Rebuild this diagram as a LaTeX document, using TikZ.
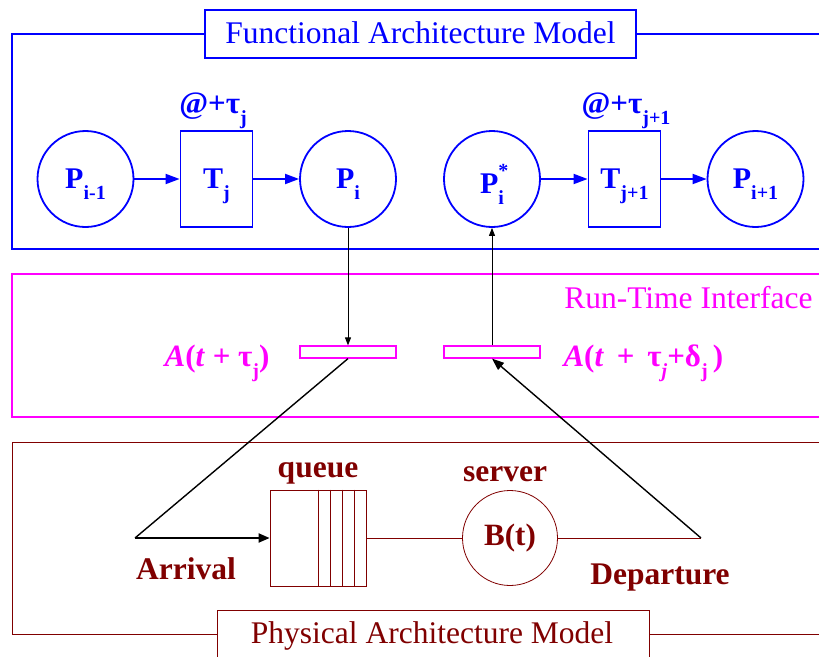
\documentclass[tikz,border=0pt]{standalone}
\usepackage{fontspec}
\setmainfont{Liberation Serif}
\usetikzlibrary{arrows.meta}
\definecolor{fblue}{RGB}{0,0,255}
\definecolor{rtmag}{RGB}{255,0,255}
\definecolor{phred}{RGB}{128,0,0}
% lowered subscript in the style of the labels
\newcommand\lsub[1]{\raisebox{-0.36em}{\fontsize{20}{20}\selectfont #1}}
\newcommand\hsup[1]{\rlap{\raisebox{0.55em}{\fontsize{20}{20}\selectfont #1}}}

\begin{document}
\begin{tikzpicture}[x=1pt,y=-1pt,
  place/.style={circle,draw=fblue,line width=1.8pt,minimum size=96pt,inner sep=0pt,
    text=fblue,text depth=0pt,font=\fontsize{30}{30}\selectfont\bfseries},
  trans/.style={rectangle,draw=fblue,line width=1.8pt,minimum width=72pt,minimum height=96pt,
    inner sep=0pt,text=fblue,text depth=0pt,font=\fontsize{30}{30}\selectfont\bfseries},
  flow/.style={fblue,line width=1.8pt,-{Triangle[length=14pt,width=10pt]}},
  title/.style={draw,fill=white,minimum height=48pt,inner sep=0pt},
  slot/.style={rectangle,draw=rtmag,line width=1.2pt,minimum width=96pt,minimum height=12pt,inner sep=0pt},
  link/.style={black,line width=0.9pt,-{Triangle[length=8pt,width=6pt]}},
  mlabel/.style={text=rtmag,font=\fontsize{31}{31}\selectfont\bfseries},
  plabel/.style={text=phred,font=\fontsize{31.5}{31.5}\selectfont\bfseries},
  flabel/.style={text=fblue,font=\fontsize{31}{31}\selectfont\bfseries},
  ttext/.style={font=\fontsize{31.5}{31.5}\selectfont},
]
\useasboundingbox (0,0) rectangle (819,656);

% ---- functional layer frame
\draw[fblue,line width=1.3pt] (205,34) -- (12,34) -- (12,249) -- (819,249);
\draw[fblue,line width=1.3pt] (636,34) -- (819,34);
\node[title,draw=fblue,line width=1.3pt,minimum width=431pt] (ftitle) at (420.5,34) {};
\node[ttext,anchor=base,text=fblue] (ftext) at (420.5,43) {Functional Architecture Model};

% ---- places and transitions
\node[place] (Pa) at (85.5,179) {P\lsub{i-1}};
\node[trans] (Tj) at (216.5,179) {T\lsub{j}};
\node[place] (Pi) at (348,179) {P\lsub{i}};
\node[place] (Ps) at (492,179) {P\hsup{*}\lsub{i}};
\node[trans] (Tk) at (624.5,179) {T\lsub{j+1}};
\node[place] (Pb) at (755.5,179) {P\lsub{i+1}};

\node[flabel,anchor=base] (dj) at (213,113) {@+τ\lsub{j}};
\node[flabel,anchor=base] (dk) at (626,113) {@+τ\lsub{j+1}};

\draw[flow] (Pa) -- (Tj);
\draw[flow] (Tj) -- (Pi);
\draw[flow] (Ps) -- (Tk);
\draw[flow] (Tk) -- (Pb);

% ---- run-time interface layer
\draw[rtmag,line width=1.3pt] (819,274) -- (12,274) -- (12,417) -- (819,417);
\node[ttext,anchor=base east,text=rtmag] (rtext) at (816,308) {Run-Time Interface};

\node[slot] (sl) at (348,352) {};
\node[slot] (sr) at (492,352) {};
\node[mlabel,anchor=base east] (al) at (273,366) {\textit{A}(\textit{t} + τ\lsub{j})};
\node[mlabel,anchor=base west] (ar) at (560,366) {\textit{A}(\textit{t}\, + \,τ\lsub{\textit{j}}+δ\lsub{j}\,)};

% ---- physical layer
\draw[phred,line width=0.9pt] (217,634) -- (12,634) -- (12,442) -- (819,442);
\draw[phred,line width=0.9pt] (649,634) -- (819,634);
\node[title,draw=phred,line width=0.9pt,minimum width=432pt] (ptitle) at (433,634) {};
\node[ttext,anchor=base,text=phred] (ptext) at (432,643) {Physical Architecture Model};

\node[rectangle,draw=phred,line width=0.8pt,minimum width=96pt,minimum height=96pt,inner sep=0pt] (queue) at (318,538) {};
\foreach \dx in {48.5,61,73,85}
  \draw[phred,line width=0.8pt] (queue.north west) ++(\dx,0) -- ++(0,96);
\node[circle,draw=phred,line width=0.8pt,minimum size=95pt,inner sep=0pt,text=phred,
  font=\fontsize{31}{31}\selectfont\bfseries] (server) at (510,538) {B(t)};

\node[plabel,anchor=base] (ql) at (318,477) {queue};
\node[plabel,anchor=base] (sv) at (505,481) {server};
\node[plabel,anchor=base] (avl) at (186,579) {Arrival};
\node[plabel,anchor=base] (dpl) at (660,584) {Departure};

\coordinate (arr) at (135,538);
\coordinate (dep) at (701,538);

\draw[phred,line width=0.8pt] (queue.east) -- (server.west);
\draw[phred,line width=0.8pt] (server.east) -- (dep);
\draw[black,line width=2pt,-{Triangle[length=11pt,width=9pt]}] (arr) -- (queue.west);

% ---- links between layers
\draw[link] (Pi.south) -- (sl.north);
\draw[link] (sr.north) -- (Ps.south);
\draw[black,line width=1.4pt] (sl.south) -- (arr);
\draw[black,line width=1.4pt,-{Triangle[length=12pt,width=9pt]}] (dep) -- (sr.south);
\end{tikzpicture}
\end{document}
